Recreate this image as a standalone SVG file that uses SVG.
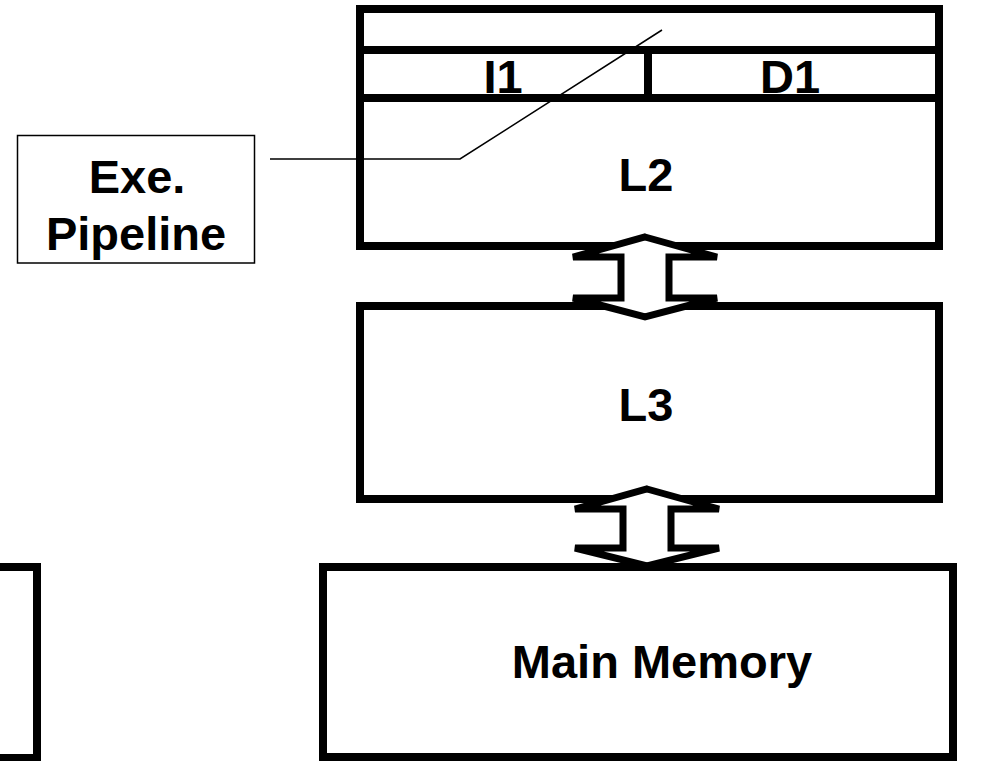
<svg xmlns="http://www.w3.org/2000/svg" width="1003" height="761" viewBox="0 0 1003 761">
<style>
.box{fill:#fff;stroke:#000;stroke-width:8}
.ln{fill:none;stroke:#000;stroke-width:8}
.thin{fill:#fff;stroke:#000;stroke-width:1.5}
.lead{fill:none;stroke:#000;stroke-width:1.5}
.arr{fill:#fff;stroke:#000;stroke-width:7;stroke-linejoin:miter;stroke-miterlimit:4}
text{font-family:"Liberation Sans",Arial,sans-serif;font-weight:bold;font-size:47px;fill:#000;text-anchor:middle}
</style>
<rect width="1003" height="761" fill="#fff"/>
<g id="left-partial">
<rect class="box" x="-20" y="567" width="57" height="191"/>
</g>
<g id="cpu-l2">
<rect class="box" x="360" y="9" width="579" height="237"/>
<line class="ln" x1="360" y1="50" x2="939" y2="50"/>
<line class="ln" x1="360" y1="98" x2="939" y2="98"/>
<line class="ln" x1="648" y1="50" x2="648" y2="98"/>
<text x="503" y="93">I1</text>
<text x="790" y="93">D1</text>
<text x="646" y="191">L2</text>
</g>
<g id="l3">
<rect class="box" x="360" y="306" width="579" height="193"/>
<text x="646" y="421">L3</text>
</g>
<g id="main-memory">
<rect class="box" x="323" y="567" width="630" height="190"/>
<text x="662" y="678">Main Memory</text>
</g>
<g id="exe-pipeline">
<rect class="thin" x="17.5" y="135.5" width="237" height="127.5"/>
<text x="137" y="193">Exe.</text>
<text x="136" y="250">Pipeline</text>
</g>
<g id="connectors">
<polygon class="arr" points="645,237 717,257 669,257 669,298 717,298 645,317 573,298 621,298 621,257 573,257"/>
<polygon class="arr" points="647,489 719,509 671,509 671,548 719,548 647,566 575,548 623,548 623,509 575,509"/>
<polyline class="lead" points="270,159 460,159 662,30"/>
</g>
</svg>
